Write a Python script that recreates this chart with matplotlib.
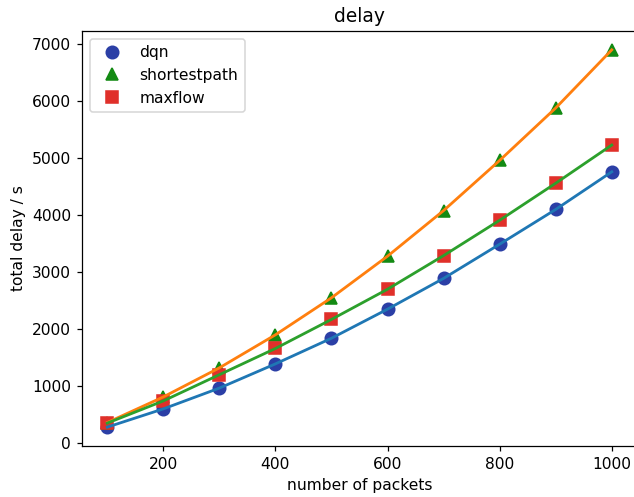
import matplotlib
matplotlib.use("Agg")
import matplotlib.pyplot as plt

packets = [100, 200, 300, 400, 500, 600, 700, 800, 900, 1000]
dqn = [280, 600, 965, 1390, 1840, 2350, 2890, 3490, 4100, 4760]
shortestpath = [360, 810, 1320, 1900, 2550, 3280, 4080, 4960, 5880, 6900]
maxflow = [350, 740, 1200, 1660, 2170, 2700, 3290, 3910, 4560, 5230]

DPI = 112
fig = plt.figure(figsize=(634/DPI, 497/DPI), dpi=DPI)
ax = fig.add_axes([82/634, 51/497, (637-82)/634, (446-31)/497])

ax.plot(packets, dqn, 'o', color='#2b3fa6', markersize=8, label='dqn')
ax.plot(packets, shortestpath, '^', color='#138a13', markersize=8, label='shortestpath')
ax.plot(packets, maxflow, 's', color='#e0302a', markersize=8, label='maxflow')

ax.plot(packets, dqn, color='C0', lw=1.8)
ax.plot(packets, shortestpath, color='C1', lw=1.8)
ax.plot(packets, maxflow, color='C2', lw=1.8)

ax.set_title('delay')
ax.set_xlabel('number of packets')
ax.set_ylabel('total delay / s')
ax.legend(loc='upper left')

fig.savefig('out.png', dpi=DPI)
